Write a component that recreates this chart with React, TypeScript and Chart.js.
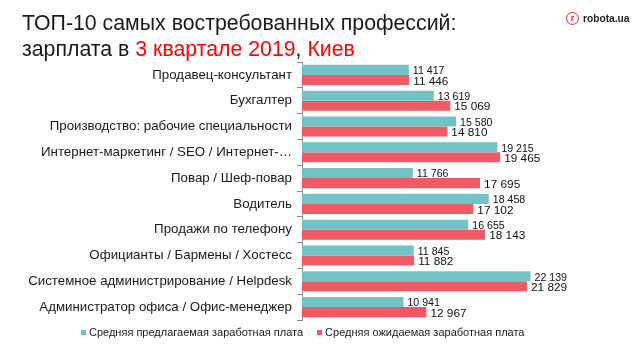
import React, { useEffect, useRef } from "react";
import { Chart, registerables } from "chart.js";

Chart.register(...registerables);

const categories = [
  "Продавец-консультант",
  "Бухгалтер",
  "Производство: рабочие специальности",
  "Интернет-маркетинг / SEO / Интернет-…",
  "Повар / Шеф-повар",
  "Водитель",
  "Продажи по телефону",
  "Официанты / Бармены / Хостесс",
  "Системное администрирование / Helpdesk",
  "Администратор офиса / Офис-менеджер",
];
const offered = [11417, 13619, 15580, 19215, 11766, 18458, 16655, 11845, 22139, 10941];
const expected = [11446, 15069, 14810, 19465, 17695, 17102, 18143, 11882, 21829, 12967];
const seriesNames = [
  "Средняя предлагаемая заработная плата",
  "Средняя ожидаемая заработная плата",
];
const TEAL = "#72C3C7";
const RED = "#EF5A64";

const fmt = (v: number) => String(v).replace(/\B(?=(\d{3})+(?!\d))/g, " ");

const valueLabels = {
  id: "valueLabels",
  afterDatasetsDraw(chart: any) {
    const ctx = chart.ctx;
    ctx.save();
    ctx.fillStyle = "#111";
    ctx.textBaseline = "middle";
    ctx.textAlign = "left";
    chart.data.datasets.forEach((ds: any, di: number) => {
      const meta = chart.getDatasetMeta(di);
      ctx.font = di === 0 ? "10.6px 'Liberation Sans', Arial" : "11.8px 'Liberation Sans', Arial";
      meta.data.forEach((el: any, i: number) => {
        ctx.fillText(fmt(ds.data[i]), el.x + 4, el.y + 1.5);
      });
    });
    ctx.restore();
  },
};

export default function App() {
  const ref = useRef<HTMLCanvasElement>(null);
  useEffect(() => {
    if (!ref.current) return;
    const chart = new Chart(ref.current, {
      type: "bar",
      data: {
        labels: categories,
        datasets: [
          { label: seriesNames[0], data: offered, backgroundColor: TEAL, borderWidth: 0 },
          { label: seriesNames[1], data: expected, backgroundColor: RED, borderWidth: 0 },
        ],
      },
      options: {
        indexAxis: "y",
        animation: false,
        responsive: false,
        maintainAspectRatio: false,
        datasets: { bar: { barPercentage: 1, categoryPercentage: 0.78 } },
        layout: { padding: { top: 62, bottom: 40, left: 0, right: 77 } },
        plugins: { legend: { display: false }, tooltip: { enabled: false }, title: { display: false } },
        scales: {
          x: { display: false, min: 2000, max: 25000 },
          y: {
            afterFit: (s: any) => { s.width = 302; },
            border: { display: true, color: "#8c8c8c", width: 1 },
            grid: { offset: true, drawOnChartArea: false, drawTicks: true, tickLength: 5, color: "#8c8c8c" },
            ticks: { padding: 5, color: "#1a1a1a", font: { family: "'Liberation Sans', Arial", size: 13.3 } },
          },
        },
      },
      plugins: [valueLabels],
    });
    return () => chart.destroy();
  }, []);

  const font = "'Liberation Sans', Arial, sans-serif";
  return (
    <div style={{ position: "absolute", left: 0, top: 0, width: 640, height: 360, background: "#fff", overflow: "hidden", fontFamily: font }}>
      <canvas ref={ref} width={640} height={360} style={{ position: "absolute", left: 0, top: 0 }} />
      <div style={{ position: "absolute", left: 22, top: 10, fontSize: 21.3, lineHeight: "26px", color: "#1a1a1a", whiteSpace: "nowrap" }}>
        <div>ТОП-10 самых востребованных профессий:</div>
        <div>
          зарплата в <span style={{ color: "#ff0000" }}>3 квартале 2019</span>, <span style={{ color: "#ff0000" }}>Киев</span>
        </div>
      </div>
      <div style={{ position: "absolute", left: 566, top: 12, display: "flex", alignItems: "center" }}>
        <div style={{ width: 13, height: 13, borderRadius: "50%", border: "1.6px solid #ee2b36", color: "#ee2b36", fontSize: 9, fontWeight: 700, lineHeight: "10px", textAlign: "center", boxSizing: "border-box" }}>r</div>
        <div style={{ marginLeft: 4, fontSize: 10.2, fontWeight: 700, color: "#222" }}>robota.ua</div>
      </div>
      <div style={{ position: "absolute", left: 81, top: 326, fontSize: 11, color: "#1a1a1a", display: "flex", alignItems: "center", whiteSpace: "nowrap" }}>
        <span style={{ width: 5, height: 5, background: TEAL, display: "inline-block", marginRight: 3 }} />
        <span>{seriesNames[0]}</span>
        <span style={{ width: 5, height: 5, background: RED, display: "inline-block", marginLeft: 14, marginRight: 3 }} />
        <span>{seriesNames[1]}</span>
      </div>
    </div>
  );
}
